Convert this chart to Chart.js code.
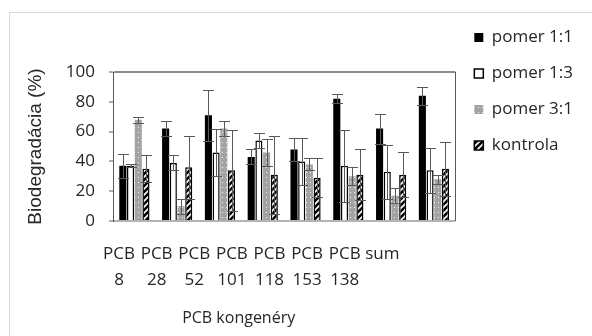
<!DOCTYPE html>
<html>
<head>
<meta charset="utf-8">
<script src="https://cdn.jsdelivr.net/npm/chart.js@4/dist/chart.umd.min.js"></script>
<style>
  html, body { margin: 0; padding: 0; background: #fff; }
  #wrap { position: relative; width: 592px; height: 336px; overflow: hidden; }
  #frame { position: absolute; left: 9px; top: 12px; width: 640px; height: 400px; border: 1px solid #d9d9d9; }
  canvas { position: absolute; left: 0; top: 0; }
</style>
</head>
<body>
<div id="wrap">
  <div id="frame"></div>
  <canvas id="graf" width="592" height="336"></canvas>
</div>
<script>
// kategorie a popisky osi x
var kategorie = ["PCB 8", "PCB 28", "PCB 52", "PCB 101", "PCB 118", "PCB 153", "PCB 138", "sum"];
var popisky = [["PCB", "8"], ["PCB", "28"], ["PCB", "52"], ["PCB", "101"], ["PCB", "118"], ["PCB", "153"], ["PCB", "138"], ["sum"]];
var yTicks = [0, 20, 40, 60, 80, 100];

// hodnoty biodegradacie (%) a smerodajne odchylky
var pomer11 = [37, 62, 71, 43, 48, 82, 62, 84];
var chyba11 = [8, 5, 17, 5, 8, 3, 10, 6];
var pomer13 = [37, 39, 46, 54, 40, 37, 33, 34];
var chyba13 = [1, 5, 16, 5, 16, 24, 18, 15];
var pomer31 = [68, 10, 62, 46, 38, 30, 17, 28];
var chyba31 = [2, 5, 5, 9, 4, 6, 5, 3];
var kontrola = [35, 36, 34, 31, 29, 31, 31, 35];
var chybaK = [9, 21, 27, 26, 13, 17, 15, 18];

var chyby = [chyba11, chyba13, chyba31, chybaK];

// vzory vyplne
function vzorBodky() {
  var c = document.createElement("canvas");
  c.width = 4; c.height = 5;
  var g = c.getContext("2d");
  g.fillStyle = "#a3a3a3";
  g.fillRect(0, 0, 4, 5);
  g.fillStyle = "#f2f2f2";
  g.fillRect(2, 2, 1, 1);
  return g.createPattern(c, "repeat");
}
function vzorSrafy() {
  var c = document.createElement("canvas");
  c.width = 6; c.height = 6;
  var g = c.getContext("2d");
  g.fillStyle = "#fff";
  g.fillRect(0, 0, 6, 6);
  g.strokeStyle = "#000";
  g.lineWidth = 2.6;
  g.beginPath();
  g.moveTo(-1, 7); g.lineTo(7, -1);
  g.moveTo(-4, 4); g.lineTo(4, -4);
  g.moveTo(2, 10); g.lineTo(10, 2);
  g.stroke();
  return g.createPattern(c, "repeat");
}

// chybove useky + pravy okraj grafu
var chybovePlugin = {
  id: "chybove",
  afterDatasetsDraw: function (chart) {
    var ctx = chart.ctx;
    var y = chart.scales.y;
    var a = chart.chartArea;
    ctx.save();
    ctx.strokeStyle = "#595959";
    ctx.lineWidth = 1;
    chart.data.datasets.forEach(function (ds, d) {
      var meta = chart.getDatasetMeta(d);
      meta.data.forEach(function (bar, i) {
        var x = Math.round(bar.x) + 0.5;
        var v = ds.data[i], e = chyby[d][i];
        var yt = Math.round(y.getPixelForValue(v + e)) + 0.5;
        var yb = Math.round(y.getPixelForValue(Math.max(v - e, 0))) + 0.5;
        ctx.beginPath();
        ctx.moveTo(x, yt); ctx.lineTo(x, yb);
        ctx.moveTo(x - 5.5, yt); ctx.lineTo(x + 5.5, yt);
        ctx.moveTo(x - 5.5, yb); ctx.lineTo(x + 5.5, yb);
        ctx.stroke();
      });
    });
    ctx.beginPath();
    ctx.moveTo(Math.round(a.right) + 0.5, a.top);
    ctx.lineTo(Math.round(a.right) + 0.5, a.bottom);
    ctx.stroke();
    ctx.restore();
  },
  afterDraw: function (chart) {
    // nazov osi x (v povodnom grafe posunuty dolava)
    var xl = chart.scales.xl;
    var ctx = chart.ctx;
    var stred = (xl.getPixelForValue(0) + xl.getPixelForValue(popisky.length - 1)) / 2 - 12;
    ctx.save();
    ctx.font = "16px 'Open Sans'";
    ctx.fillStyle = "#262626";
    ctx.textAlign = "center";
    ctx.textBaseline = "middle";
    ctx.fillText("PCB kongenéry", stred, xl.bottom + 25);
    ctx.restore();
  }
};

window.addEventListener("DOMContentLoaded", function () {
  Chart.defaults.font.family = "'Open Sans'";
  Chart.defaults.font.size = 17;
  Chart.defaults.color = "#404040";

  var ctx = document.getElementById("graf").getContext("2d");

  new Chart(ctx, {
    type: "bar",
    data: {
      labels: kategorie,
      datasets: [
        { label: "pomer 1:1", data: pomer11, backgroundColor: "#000", borderColor: "#000", borderWidth: 0 },
        { label: "pomer 1:3", data: pomer13, backgroundColor: "#fff", borderColor: "#000", borderWidth: 1.5 },
        { label: "pomer 3:1", data: pomer31, backgroundColor: vzorBodky(), borderColor: "#a3a3a3", borderWidth: 0 },
        { label: "kontrola", data: kontrola, backgroundColor: vzorSrafy(), borderColor: "#000", borderWidth: 1.5 }
      ]
    },
    options: {
      responsive: false,
      animation: false,
      categoryPercentage: 0.72,
      barPercentage: 0.92,
      layout: { padding: { left: 20, top: 10, right: 9, bottom: 43 } },
      plugins: {
        legend: {
          position: "right",
          align: "start",
          labels: { boxWidth: 9, boxHeight: 9, padding: 19, color: "#262626", font: { size: 17 } }
        },
        tooltip: { enabled: false }
      },
      scales: {
        x: { display: false },
        xt: {
          type: "category",
          position: "top",
          grid: { display: false, drawTicks: false },
          border: { display: false },
          ticks: { display: false },
          afterFit: function (s) { s.height = 62; }
        },
        xl: {
          type: "linear",
          position: "bottom",
          offset: false,
          min: -0.16,
          max: 8.94,
          grid: { display: false, drawTicks: false, offset: false },
          border: { display: false },
          afterBuildTicks: function (s) {
            s.ticks = popisky.map(function (p, i) { return { value: i }; });
          },
          ticks: {
            autoSkip: false,
            maxRotation: 0,
            padding: 20,
            color: "#262626",
            font: { size: 17, lineHeight: 1.55 },
            callback: function (v) { return popisky[v]; }
          },
          afterFit: function (s) { s.height = 72; }
        },
        y: {
          min: 0,
          max: 100,
          afterBuildTicks: function (s) {
            s.ticks = yTicks.map(function (t) { return { value: t }; });
          },
          ticks: { padding: 14, color: "#262626" },
          grid: {
            drawOnChartArea: true,
            tickLength: 4,
            tickWidth: 1,
            tickColor: "#595959",
            lineWidth: 2,
            color: function (c) {
              if (c.tick.value === 100) return "#8c8c8c";
              if (c.tick.value === 0) return "#b3b3b3";
              return "rgba(0,0,0,0)";
            }
          },
          border: { color: "#595959", width: 1 },
          title: {
            display: true,
            text: "Biodegradácia (%)",
            color: "#262626",
            font: { family: "'Liberation Sans'", size: 19 },
            padding: { top: 4, bottom: 0 }
          },
          afterFit: function (s) { s.width = 93; }
        }
      }
    },
    plugins: [chybovePlugin]
  });
});
</script>
</body>
</html>
